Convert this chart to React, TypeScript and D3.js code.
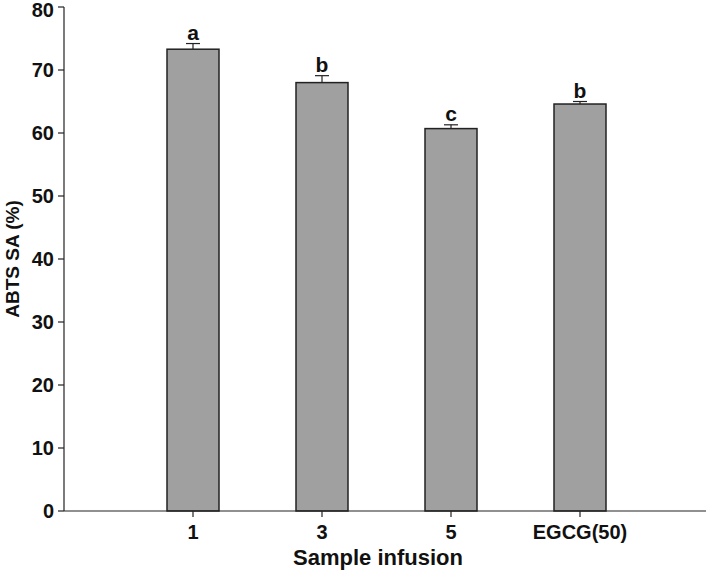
import React from 'react';
import * as d3 from 'd3';

const categories = ['1', '3', '5', 'EGCG(50)'];
const means = [73.3, 68.0, 60.7, 64.6];
const errors = [0.9, 1.1, 0.6, 0.4];
const letters = ['a', 'b', 'c', 'b'];
const yTicks = [0, 10, 20, 30, 40, 50, 60, 70, 80];

const width = 709;
const height = 570;
const font = '"Liberation Sans", Arial, sans-serif';

export default function App() {
  const x = d3.scaleLinear().domain([0, categories.length + 1]).range([64, 709]);
  const y = d3.scaleLinear().domain([0, 80]).range([511, 7]);
  const barW = 52;
  const capW = 14;

  return (
    <svg
      width={width}
      height={height}
      style={{ position: 'absolute', left: 0, top: 0, background: '#fff' }}
      fontFamily={font}
      fontWeight="bold"
    >
      {/* bars with error bars and letters */}
      {categories.map((c, i) => {
        const cx = x(i + 1);
        const top = y(means[i]);
        const errTop = y(means[i] + errors[i]);
        return (
          <g key={c}>
            <line x1={cx} x2={cx} y1={top} y2={errTop} stroke="#222" strokeWidth={1.2} />
            <line x1={cx - capW / 2} x2={cx + capW / 2} y1={errTop} y2={errTop} stroke="#222" strokeWidth={1.2} />
            <rect
              x={cx - barW / 2}
              y={top}
              width={barW}
              height={y(0) - top}
              fill="#a0a0a0"
              stroke="#222"
              strokeWidth={1.5}
            />
            <text x={cx} y={errTop - 4} textAnchor="middle" fontSize={21} fill="#111">
              {letters[i]}
            </text>
          </g>
        );
      })}

      {/* y axis */}
      <line x1={64} x2={64} y1={y(80)} y2={y(0)} stroke="#222" strokeWidth={1.2} />
      {yTicks.map((t) => (
        <g key={t}>
          <line x1={58} x2={64} y1={y(t)} y2={y(t)} stroke="#222" strokeWidth={1.2} />
          <text x={54} y={Math.max(y(t), 10)} dy="0.36em" textAnchor="end" fontSize={20} fill="#111">
            {t}
          </text>
        </g>
      ))}

      {/* x axis */}
      <line x1={64} x2={706} y1={y(0)} y2={y(0)} stroke="#222" strokeWidth={1.2} />
      {categories.map((c, i) => (
        <g key={c}>
          <line x1={x(i + 1)} x2={x(i + 1)} y1={y(0)} y2={y(0) + 6} stroke="#222" strokeWidth={1.2} />
          <text x={x(i + 1)} y={y(0) + 28} textAnchor="middle" fontSize={20} fill="#111">
            {c}
          </text>
        </g>
      ))}

      <text x={378} y={565} textAnchor="middle" fontSize={22} fill="#111">
        Sample infusion
      </text>
      <text
        transform={`translate(19, ${(y(0) + y(80)) / 2}) rotate(-90)`}
        textAnchor="middle"
        fontSize={19}
        fill="#111"
      >
        ABTS SA (%)
      </text>
    </svg>
  );
}
